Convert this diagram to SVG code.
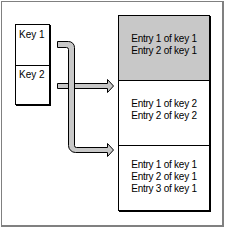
<svg xmlns="http://www.w3.org/2000/svg" width="225" height="228" viewBox="0 0 225 228">
  <style>
    .txt { font-family: "Liberation Sans", Arial, sans-serif; font-size: 10px; fill: #000; }
    .entry { text-anchor: middle; letter-spacing: -0.25px; }
    .box { fill: #fff; stroke: #000; stroke-width: 1; }
    .shadow { fill: #000; }
    .arrow { fill: #c8c8c8; stroke: #000; stroke-width: 1; stroke-linejoin: miter; }
  </style>
  <rect x="0" y="0" width="225" height="228" fill="#fff"/>
  <g id="frame">
    <rect x="1.5" y="1.5" width="221" height="224" fill="none" stroke="#808080" stroke-width="1"/>
    <line x1="223.5" y1="1" x2="223.5" y2="227" stroke="#808080" stroke-width="1"/>
    <line x1="1" y1="226.5" x2="224" y2="226.5" stroke="#808080" stroke-width="1"/>
  </g>

  <g id="keys">
    <rect class="shadow" x="16" y="25" width="35" height="81"/>
    <rect class="box" x="15.5" y="24.5" width="34" height="80"/>
    <line x1="15" y1="65.5" x2="50" y2="65.5" stroke="#000"/>
    <g id="key1"><text class="txt" x="19" y="38">Key 1</text></g>
    <g id="key2"><text class="txt" x="19" y="78">Key 2</text></g>
  </g>

  <g id="entries">
    <rect class="shadow" x="119" y="16" width="92" height="196"/>
    <rect class="box" x="118.5" y="15.5" width="91" height="195"/>
    <rect x="119" y="16" width="90" height="64" fill="#c8c8c8"/>
    <line x1="118" y1="80.5" x2="210" y2="80.5" stroke="#000"/>
    <line x1="118" y1="145.5" x2="210" y2="145.5" stroke="#000"/>
    <g id="bucket1">
      <text class="txt entry" x="164" y="42">Entry 1 of key 1</text>
      <text class="txt entry" x="164" y="54">Entry 2 of key 1</text>
    </g>
    <g id="bucket2">
      <text class="txt entry" x="164" y="107">Entry 1 of key 2</text>
      <text class="txt entry" x="164" y="119">Entry 2 of key 2</text>
    </g>
    <g id="bucket3">
      <text class="txt entry" x="164" y="168">Entry 1 of key 1</text>
      <text class="txt entry" x="164" y="180">Entry 2 of key 1</text>
      <text class="txt entry" x="164" y="192">Entry 3 of key 1</text>
    </g>
  </g>

  <g id="connectors">
    <path class="arrow" d="M57.5,83.5 H107.5 V79.5 L113.5,86 L107.5,92.5 V88.5 H57.5 Z"/>
    <path class="arrow" d="M57.5,41.5 H68.5 A6,6 0 0 1 74.5,47.5 V145.5 A2,2 0 0 0 76.5,147.5 H107.5 V143.5 L113.5,150 L107.5,156.5 V152.5 H75.5 A7,7 0 0 1 68.5,145.5 V49.5 A2,2 0 0 0 66.5,47.5 H57.5 Z"/>
  </g>
</svg>
